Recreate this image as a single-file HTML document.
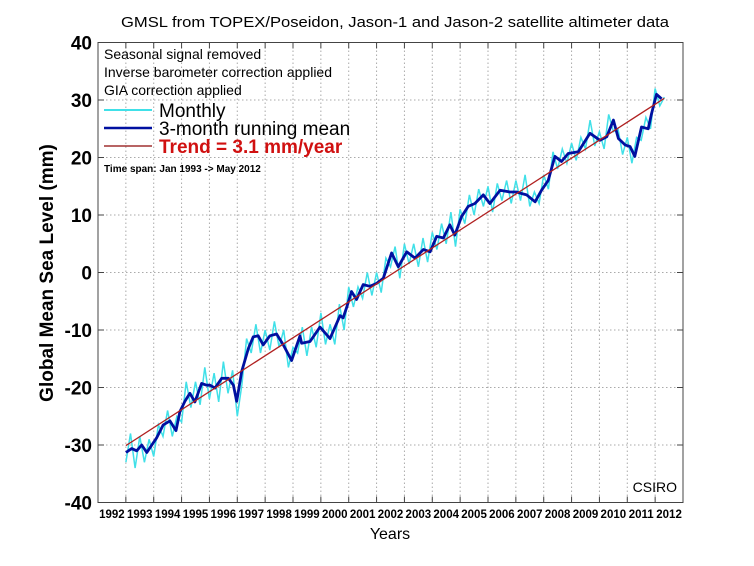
<!DOCTYPE html>
<html><head><meta charset="utf-8"><style>
html,body{margin:0;padding:0;background:#fff;}
svg{display:block;font-family:"Liberation Sans",Arial,sans-serif;}
</style></head><body>
<svg id="chart" width="754" height="566" viewBox="0 0 754 566">
<text x="395" y="27" font-size="15" text-anchor="middle" textLength="548" lengthAdjust="spacingAndGlyphs">GMSL from TOPEX/Poseidon, Jason-1 and Jason-2 satellite altimeter data</text>
<g id="grid"></g>
<g id="series"></g>
<rect x="98" y="42.5" width="585" height="460" fill="none" stroke="#444" stroke-width="1"/>
<g id="ticks"></g>
<text transform="translate(53,273) rotate(-90)" font-size="19" font-weight="bold" text-anchor="middle">Global Mean Sea Level (mm)</text>
<text x="390" y="539" font-size="16" text-anchor="middle">Years</text>
<g>
<text x="104" y="59" font-size="14">Seasonal signal removed</text>
<text x="104" y="77" font-size="14">Inverse barometer correction applied</text>
<text x="104" y="95" font-size="14">GIA correction applied</text>
<line x1="104" y1="110" x2="152" y2="110" stroke="#40e0e8" stroke-width="2"/>
<text x="159" y="117" font-size="19">Monthly</text>
<line x1="104" y1="128" x2="152" y2="128" stroke="#0010a0" stroke-width="2.5"/>
<text x="159" y="135" font-size="19">3-month running mean</text>
<line x1="104" y1="146" x2="152" y2="146" stroke="#a03030" stroke-width="1.5"/>
<text x="159" y="153" font-size="19" font-weight="bold" fill="#d01010">Trend = 3.1 mm/year</text>
<text x="104" y="172" font-size="10" font-weight="bold">Time span: Jan 1993 -&gt; May 2012</text>
</g>
<text x="677" y="492" font-size="14" text-anchor="end">CSIRO</text>
</svg>
<script>
var yTicks=[40,30,20,10,0,-10,-20,-30,-40];
var xLabels=[1992,1993,1994,1995,1996,1997,1998,1999,2000,2001,2002,2003,2004,2005,2006,2007,2008,2009,2010,2011,2012];
var meanYears=[1993.0,1993.21,1993.39,1993.57,1993.75,1993.93,1994.1,1994.34,1994.58,1994.8,1994.94,1995.12,1995.3,1995.48,1995.72,1995.9,1996.02,1996.2,1996.44,1996.68,1996.86,1996.98,1997.16,1997.4,1997.57,1997.75,1997.93,1998.17,1998.41,1998.65,1998.95,1999.25,1999.31,1999.61,1999.97,2000.33,2000.69,2000.8,2000.93,2001.1,2001.28,2001.52,2001.76,2002.0,2002.24,2002.54,2002.78,2003.08,2003.38,2003.68,2003.92,2004.16,2004.4,2004.63,2004.81,2005.05,2005.29,2005.53,2005.83,2006.07,2006.43,2006.79,2007.03,2007.15,2007.39,2007.69,2007.92,2008.16,2008.4,2008.64,2008.88,2009.24,2009.66,2010.02,2010.26,2010.5,2010.68,2010.92,2011.1,2011.27,2011.51,2011.75,2011.87,2012.05,2012.23];
var meanValues=[-31.3,-30.6,-31,-30,-31.3,-30,-28.8,-26.5,-25.8,-27.5,-24.2,-22.4,-21,-22.5,-19.3,-19.6,-19.6,-20.1,-18.4,-18.4,-19.6,-22.4,-17.2,-13.2,-11.2,-11,-12.6,-11,-10.7,-12.6,-15.3,-11,-12.3,-12,-9.5,-11.5,-7.5,-7.9,-6,-3.3,-4.7,-2.1,-2.4,-1.9,-1,3.4,1,3.6,2.5,4,3.6,6.3,6,8.3,6.5,9.7,11.5,12,13.5,12,14.3,14,14,13.8,13.5,12.3,14.3,16,20.2,19.3,20.7,21,24.2,23,23.6,26.5,23.3,22.2,21.9,20.2,25.3,25,27.6,31,30.2];
var monthlyStart=1993.0;
var monthlyValues=[-33,-28,-34,-28.5,-33,-29,-32,-26.5,-28.5,-24,-28.5,-25,-26,-19,-23.5,-19,-23,-16.5,-22,-17.5,-22.5,-15.5,-21,-17,-25,-19.5,-11.5,-14,-9,-14,-10,-13.5,-8.5,-13,-10,-16.5,-13,-14,-9.5,-14.5,-9.5,-13,-7,-12.5,-9,-12.5,-5.5,-10,-2.5,-6,-2.5,-4.5,0,-4,0,-3.5,2.5,1,4.5,-1,5,1.5,5,1,6,1.8,7,4,8.5,5,10.5,4.5,11,8.5,13.5,10,14.5,11.5,15,10.5,15.5,12.5,16,12,16,12.5,17,11.5,14,12,17,14.5,21,18,21.5,19,22.5,19.5,23.5,21.5,26.5,22,24.5,21.5,27.5,24.5,25,20.5,23.5,19,23.5,23,27,25,32,29,30.5];
var trendYears=[1993.0,2012.33];
var trendValues=[-30.1,30.3];
var ns="http://www.w3.org/2000/svg";
function X(yr){return 98+(yr-1992)*585/21;}
function Y(v){return 272.5-v*5.75;}
var grid=document.getElementById('grid'),ticks=document.getElementById('ticks'),ser=document.getElementById('series');
function mk(tag,attrs,parent){var e=document.createElementNS(ns,tag);for(var k in attrs)e.setAttribute(k,attrs[k]);parent.appendChild(e);return e;}
yTicks.forEach(function(v){
  var y=Y(v);
  if(v!==40&&v!==-40){var g=mk('line',{x1:98,x2:683,y1:y,y2:y,stroke:'#aaa','stroke-width':1,'stroke-dasharray':'1.5,2.5'},grid);
  
  }
  var t=mk('line',{x1:98,x2:104,y1:y,y2:y,stroke:'#444'},ticks);
  
  
  var t2=mk('line',{x1:677,x2:683,y1:y,y2:y,stroke:'#444'},ticks);
  
  
  var l=mk('text',{x:92,y:y+7,'font-size':19,'font-weight':'bold','text-anchor':'end'},ticks);
  l.textContent=v;
  
  
});
xLabels.forEach(function(yr){
  if(yr>1992){var x=X(yr);
    var g=mk('line',{x1:x,x2:x,y1:42.5,y2:502.5,stroke:'#aaa','stroke-width':1,'stroke-dasharray':'1.5,2.5'},grid);
    
    
    var t=mk('line',{x1:x,x2:x,y1:496.5,y2:502.5,stroke:'#444'},ticks);
    
    
    var t2=mk('line',{x1:x,x2:x,y1:42.5,y2:48.5,stroke:'#444'},ticks);
    
    }
  var l=mk('text',{x:X(yr+0.5),y:518,'font-size':11.5,'font-weight':'bold','text-anchor':'middle'},ticks);
  l.textContent=yr;
  
  
});
var pm=monthlyValues.map(function(v,i){return X(monthlyStart+i/6).toFixed(1)+','+Y(v).toFixed(1);}).join(' ');
var m=mk('polyline',{points:pm,fill:'none',stroke:'#40e0e8','stroke-width':1.5},ser);


var pr=meanValues.map(function(v,i){return X(meanYears[i]).toFixed(1)+','+Y(v).toFixed(1);}).join(' ');
var r=mk('polyline',{points:pr,fill:'none',stroke:'#0010a0','stroke-width':2.8,'stroke-linejoin':'round'},ser);


var tr=mk('line',{x1:X(trendYears[0]),y1:Y(trendValues[0]),x2:X(trendYears[1]),y2:Y(trendValues[1]),stroke:'#b02020','stroke-width':1.3},ser);


</script>
</body></html>
